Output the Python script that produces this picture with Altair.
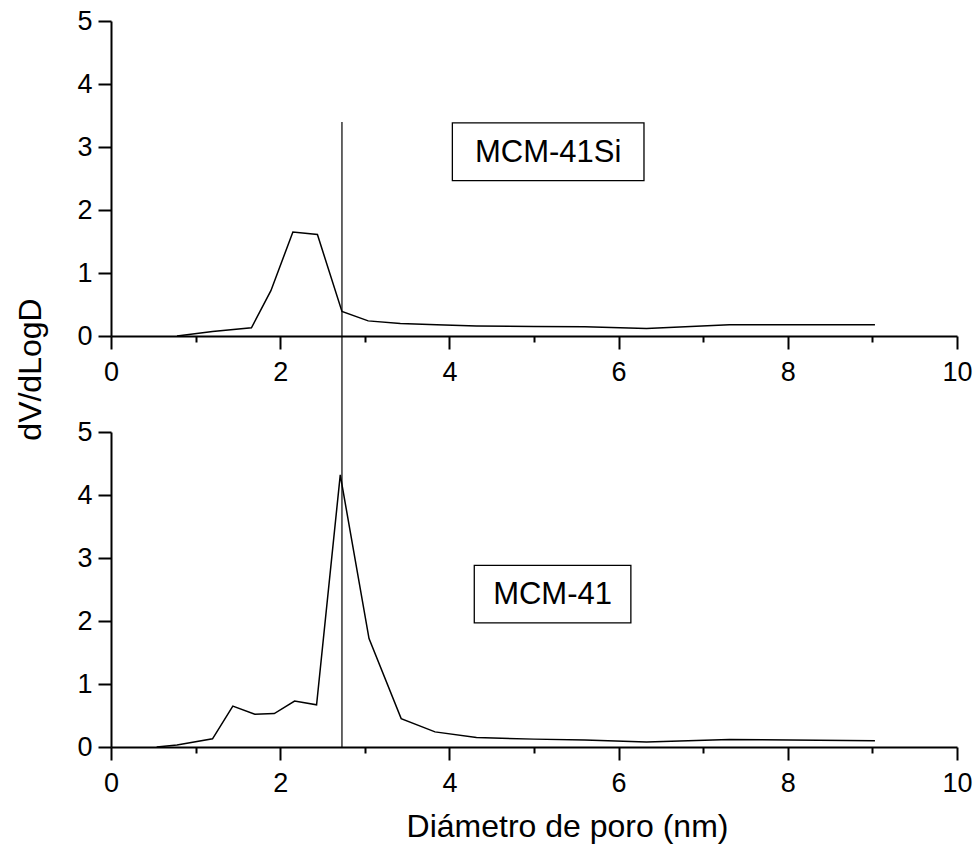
import altair as alt
import pandas as pd

# ---- data ----
si_x = [0.78, 1.20, 1.66, 1.89, 2.15, 2.44, 2.73, 3.04, 3.42, 3.85, 4.32, 5.00, 5.60, 6.33, 7.31, 9.03]
si_y = [0.00, 0.07, 0.13, 0.72, 1.65, 1.61, 0.39, 0.24, 0.20, 0.18, 0.16, 0.15, 0.145, 0.12, 0.18, 0.18]

m_x = [0.54, 0.78, 1.20, 1.44, 1.70, 1.93, 2.17, 2.43, 2.71, 3.05, 3.43, 3.83, 4.32, 5.00, 5.60, 6.33, 7.31, 9.03]
m_y = [0.00, 0.03, 0.13, 0.65, 0.52, 0.53, 0.73, 0.67, 4.32, 1.72, 0.45, 0.24, 0.15, 0.125, 0.11, 0.08, 0.12, 0.10]

# annotation boxes (data units): label, x0, x1, y0, y1
top_label = ["MCM-41Si"]
top_box = [4.035, 6.30, 2.467, 3.382]
bot_label = ["MCM-41"]
bot_box = [4.294, 6.145, 1.971, 2.884]

# vertical reference line (bottom panel units, reaches up into the top panel)
vline_x = [2.73]
vline_y = [0.0]
vline_y2 = [9.92]

x_title = "Diámetro de poro (nm)"
y_title = "dV/dLogD"
x_ticks = list(range(0, 11))
y_ticks = [i * 0.5 for i in range(11)]

FONT = "Liberation Sans"
W, H = 846, 315
SPACING = 96
LEFT, TOP = 111, 21

xscale = alt.Scale(domain=[0, 10], nice=False, zero=False)
yscale = alt.Scale(domain=[0, 5], nice=False, zero=False)


def x_axis(show_title):
    kw = dict(
        values=x_ticks,
        labelExpr="datum.value % 2 == 0 ? format(datum.value, 'd') : ''",
        tickSize={"condition": {"test": "datum.value % 2 == 0", "value": 13}, "value": 6},
        labelFlush=False,
        labelOverlap=False,
        labelPadding=10,
        grid=False,
    )
    if show_title:
        kw.update(title=x_title, titleX=456, titleY=89, titleAlign="center",
                  titleBaseline="alphabetic", titleAnchor="start")
    else:
        kw.update(title=None)
    return alt.Axis(**kw)


def y_axis(show_title):
    kw = dict(
        values=y_ticks,
        labelExpr="datum.value % 1 == 0 ? format(datum.value, 'd') : ''",
        tickSize={"condition": {"test": "datum.value % 1 == 0", "value": 13}, "value": 6},
        labelPadding=6,
        labelOverlap=False,
        grid=False,
    )
    if show_title:
        kw.update(title=y_title, titleX=-71, titleY=348, titleAngle=270,
                  titleAlign="center", titleBaseline="alphabetic", titleAnchor="start")
    else:
        kw.update(title=None)
    return alt.Axis(**kw)


def panel(xs, ys, label, box, show_x_title, show_y_title, with_rule):
    df = pd.DataFrame({"x": xs, "y": ys})
    line = alt.Chart(df).mark_line(color="black", strokeWidth=1.5).encode(
        x=alt.X("x:Q", scale=xscale, axis=x_axis(show_x_title)),
        y=alt.Y("y:Q", scale=yscale, axis=y_axis(show_y_title)),
        order="x:Q",
    )
    bdf = pd.DataFrame({"label": label, "x0": [box[0]], "x1": [box[1]],
                        "y0": [box[2]], "y1": [box[3]]})
    rect = alt.Chart(bdf).mark_rect(fill="white", stroke="black", strokeWidth=1.3).encode(
        x=alt.X("x0:Q", scale=xscale), x2="x1:Q",
        y=alt.Y("y0:Q", scale=yscale), y2="y1:Q",
    )
    bdf2 = bdf.assign(xc=(bdf.x0 + bdf.x1) / 2, yc=(bdf.y0 + bdf.y1) / 2)
    txt = alt.Chart(bdf2).mark_text(font=FONT, fontSize=31, color="black",
                                    align="center", baseline="middle", dy=1).encode(
        x=alt.X("xc:Q", scale=xscale), y=alt.Y("yc:Q", scale=yscale), text="label:N"
    )
    layers = [line, rect, txt]
    if with_rule:
        rdf = pd.DataFrame({"x": vline_x, "y": vline_y, "y2": vline_y2})
        rule = alt.Chart(rdf).mark_rule(color="black", strokeWidth=1.2, clip=False).encode(
            x=alt.X("x:Q", scale=xscale), y=alt.Y("y:Q", scale=yscale), y2="y2:Q"
        )
        layers.append(rule)
    return alt.layer(*layers).properties(width=W, height=H)


top = panel(si_x, si_y, top_label, top_box, False, True, False)
bottom = panel(m_x, m_y, bot_label, bot_box, True, False, True)

# with autosize "none" the concat view reports width W and height 0,
# so the padding supplies the rest of the 979x848 page
chart = alt.vconcat(top, bottom, spacing=SPACING, bounds="flush").properties(
    autosize=alt.AutoSizeParams(type="none"),
    padding={"left": LEFT, "top": TOP, "right": 979 - LEFT - W, "bottom": 848 - TOP},
).configure_view(stroke=None).configure_axis(
    domainColor="black", domainWidth=2, tickColor="black", tickWidth=2,
    labelFont=FONT, labelFontSize=27, labelColor="black",
    titleFont=FONT, titleFontSize=32, titleColor="black", titleFontWeight="normal",
)

chart.save("out.html", embed_options={"renderer": "svg", "actions": False})
